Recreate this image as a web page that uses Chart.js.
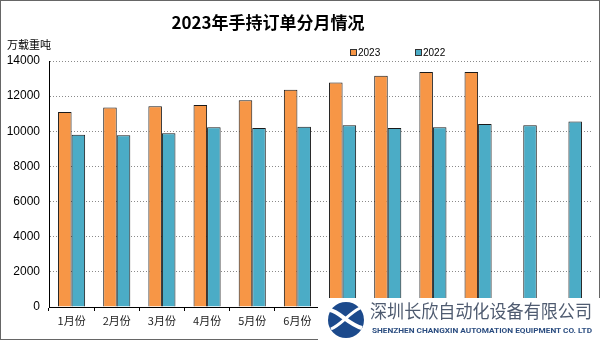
<!DOCTYPE html>
<html>
<head>
<meta charset="utf-8">
<script src="https://cdn.jsdelivr.net/npm/chart.js@4"></script>
<style>
html,body{margin:0;padding:0;background:#fff;}
#wrap{position:relative;width:600px;height:340px;overflow:hidden;background:#fff;}
#c{position:absolute;left:0;top:0;}
.ov{position:absolute;white-space:nowrap;line-height:1;}
#frame{position:absolute;left:0;top:0;width:600px;height:340px;box-sizing:border-box;border:1px solid #666;pointer-events:none;}
#title{left:0;width:536px;text-align:center;top:9px;font:bold 17px "Noto Sans CJK SC",sans-serif;color:#000;}
#unit{left:7px;top:36px;font:11px "Noto Sans CJK SC",sans-serif;color:#000;}
.lg{top:47px;font:10px "Liberation Sans",Arial,sans-serif;color:#000;display:flex;align-items:center;}
.lg i{display:inline-block;width:5px;height:5px;border:1px solid #333;margin-right:1px;}
#wm{position:absolute;left:318px;top:298px;width:282px;height:42px;background:#fff;}
</style>
</head>
<body>
<div id="wrap">
<canvas id="c" width="600" height="340"></canvas>
<div id="frame"></div>
<div class="ov" id="title"></div>
<div class="ov" id="unit"></div>
<div id="legend"></div>
<div id="wm">
<svg width="282" height="42" viewBox="0 0 282 42">
<circle cx="28" cy="22" r="18" fill="#1c4a8c"/>
<path d="M12 12 C22 14 30 26 44 30" stroke="#fff" stroke-width="4" fill="none"/>
<path d="M13 31 C24 26 30 16 42 10" stroke="#fff" stroke-width="3" fill="none"/>
<text x="52" y="20" font-family="Noto Sans CJK SC" font-size="18" fill="#4f5b70" textLength="222" lengthAdjust="spacingAndGlyphs">深圳长欣自动化设备有限公司</text>
<text x="54" y="35" font-family="Roboto" font-weight="bold" font-size="8" fill="#2b4d80" textLength="220" lengthAdjust="spacingAndGlyphs">SHENZHEN CHANGXIN AUTOMATION EQUIPMENT CO. LTD</text>
</svg>
</div>
</div>
<script>
const titleText = "2023年手持订单分月情况";
const unitText = "万载重吨";
const categories = ["1月份","2月份","3月份","4月份","5月份","6月份","7月份","8月份","9月份","10月份","11月份","12月份"];
const seriesNames = ["2023","2022"];
const values2023 = [11100,11350,11430,11490,11770,12360,12780,13160,13370,13370,null,null];
const values2022 = [9800,9780,9890,10230,10190,10260,10340,10190,10230,10420,10340,10550];
const yTicks = [0,2000,4000,6000,8000,10000,12000,14000];
const colors = ["#F79646","#4BACC6"];

document.getElementById('title').textContent = titleText;
document.getElementById('unit').textContent = unitText;
const lgPos = [350,415];
const lgEl = document.getElementById('legend');
seriesNames.forEach((n,i)=>{
  const d = document.createElement('div');
  d.className = 'ov lg';
  d.style.left = lgPos[i]+'px';
  d.innerHTML = '<i style="background:'+colors[i]+'"></i>'+n;
  lgEl.appendChild(d);
});

new Chart(document.getElementById('c'), {
  type: 'bar',
  data: {
    labels: categories,
    datasets: [
      {label: seriesNames[0], data: values2023, backgroundColor: colors[0], borderColor: '#1a1a1a', borderWidth: 1, categoryPercentage: 0.6, barPercentage: 1.0},
      {label: seriesNames[1], data: values2022, backgroundColor: colors[1], borderColor: '#1a1a1a', borderWidth: 1, categoryPercentage: 0.6, barPercentage: 1.0}
    ]
  },
  options: {
    responsive: false,
    devicePixelRatio: 1,
    animation: false,
    layout: {padding: {top: 61, right: 9, left: 0, bottom: 0}},
    plugins: {legend: {display: false}, title: {display: false}, tooltip: {enabled: false}},
    scales: {
      x: {
        grid: {display: true, drawOnChartArea: false, drawTicks: true, tickLength: 4, color: '#000', offset: true},
        border: {display: true, color: '#000', width: 1},
        ticks: {font: {family: '"Noto Sans CJK SC"', size: 11}, color: '#222', padding: 3, maxRotation: 0, autoSkip: false},
        afterFit: s => { s.height = 33; }
      },
      y: {
        min: 0, max: 14000,
        afterBuildTicks: s => { s.ticks = yTicks.map(v => ({value: v})); },
        grid: {color: '#8a8a8a', drawTicks: false, lineWidth: 1},
        border: {display: true, color: '#000', width: 1, dash: [1,2]},
        ticks: {font: {family: '"Liberation Sans", Arial', size: 12}, color: '#000', padding: 9, callback: v => String(v)},
        afterFit: s => { s.width = 49; }
      }
    }
  }
});
</script>
</body>
</html>
